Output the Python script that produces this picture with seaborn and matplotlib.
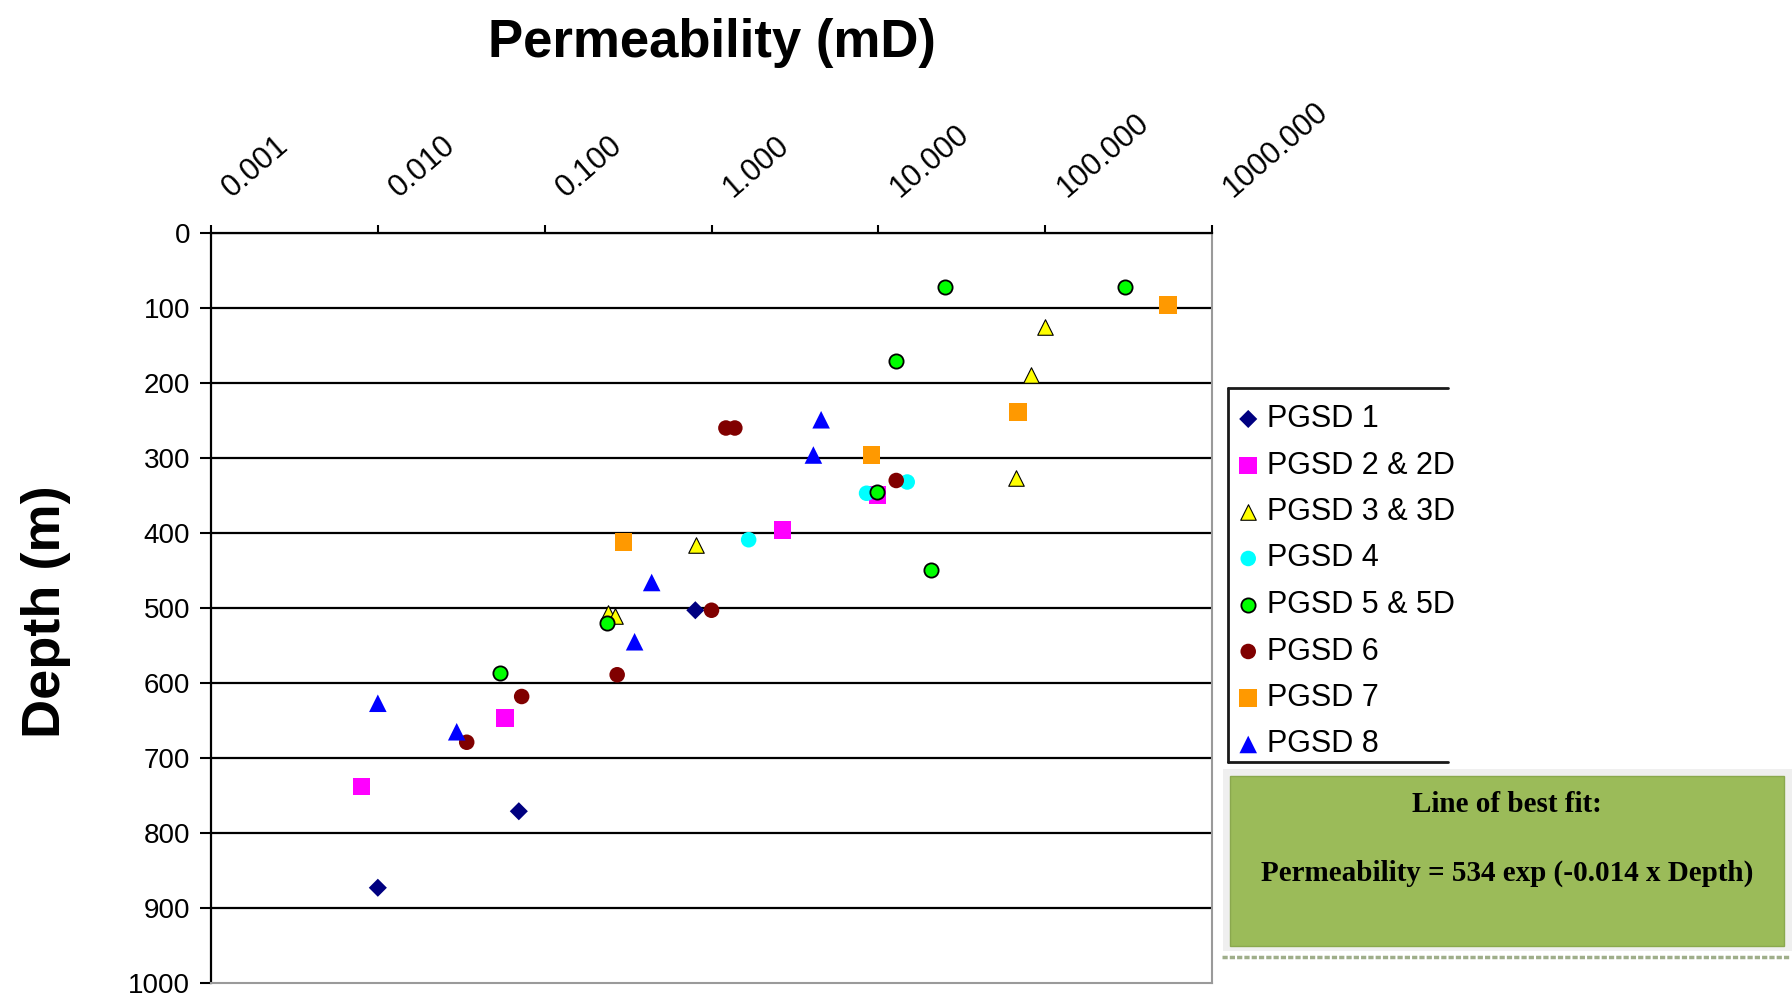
import matplotlib
matplotlib.use("Agg")
import matplotlib.pyplot as plt
import matplotlib.transforms as mtransforms
from matplotlib.lines import Line2D
from matplotlib.patches import Rectangle
import seaborn as sns
import pandas as pd

# Số liệu (độ thấm mD, độ sâu m)
wells = ["PGSD 1", "PGSD 2 & 2D", "PGSD 3 & 3D", "PGSD 4",
         "PGSD 5 & 5D", "PGSD 6", "PGSD 7", "PGSD 8"]

pgsd1_perm = [0.80, 0.070, 0.010]
pgsd1_depth = [503, 771, 873]

pgsd2_perm = [2.66, 9.9, 0.058, 0.0080]
pgsd2_depth = [396, 349, 647, 738]

pgsd3_perm = [100, 82, 67, 0.81, 0.24, 0.265]
pgsd3_depth = [125, 189, 327, 416, 507, 511]

pgsd4_perm = [1.67, 8.5, 14.9]
pgsd4_depth = [409, 347, 332]

pgsd5_perm = [25.2, 299, 12.8, 9.8, 20.7, 0.235, 0.0537]
pgsd5_depth = [72, 72, 170, 345, 449, 520, 586]

pgsd6_perm = [1.22, 1.38, 12.8, 1.0, 0.272, 0.0728, 0.0341]
pgsd6_depth = [260, 260, 330, 503, 589, 618, 679]

pgsd7_perm = [546, 68.9, 9.1, 0.296]
pgsd7_depth = [96, 239, 296, 412]

pgsd8_perm = [4.54, 4.08, 0.438, 0.346, 0.0100, 0.0297]
pgsd8_depth = [249, 296, 466, 545, 627, 665]

xtick_vals = [0.001, 0.01, 0.1, 1, 10, 100, 1000]
xtick_labels = ["0.001", "0.010", "0.100", "1.000", "10.000", "100.000", "1000.000"]
ytick_vals = list(range(0, 1001, 100))

fit_title = "Line of best fit:"
fit_text = "Permeability = 534 exp (-0.014 x Depth)"

all_perm = [pgsd1_perm, pgsd2_perm, pgsd3_perm, pgsd4_perm,
            pgsd5_perm, pgsd6_perm, pgsd7_perm, pgsd8_perm]
all_depth = [pgsd1_depth, pgsd2_depth, pgsd3_depth, pgsd4_depth,
             pgsd5_depth, pgsd6_depth, pgsd7_depth, pgsd8_depth]

rows = []
for name, p, d in zip(wells, all_perm, all_depth):
    for pi, di in zip(p, d):
        rows.append({"well": name, "perm": pi, "depth": di})
df = pd.DataFrame(rows)

# Kiểu marker cho từng giếng
markers = ["D", "s", "^", "o", "o", "o", "s", "^"]
colors = ["#000080", "#FF00FF", "#FFFF00", "#00FFFF",
          "#00FF00", "#800000", "#FF9900", "#0000FF"]
edges = ["none", "none", "black", "none", "black", "none", "none", "none"]
edge_w = [0, 0, 0.8, 0, 1.3, 0, 0, 0]
sizes = [85, 160, 125, 125, 105, 125, 160, 160]

sns.set_style("white")
plt.rcParams["font.family"] = ["Liberation Sans", "DejaVu Sans"]
plt.rcParams["text.color"] = "black"
plt.rcParams["axes.labelcolor"] = "black"
plt.rcParams["xtick.color"] = "black"
plt.rcParams["ytick.color"] = "black"

W, H = 1792, 999
fig = plt.figure(figsize=(W / 100, H / 100), dpi=100)
ax = fig.add_axes([211 / W, 1 - 983 / H, 1001 / W, 750 / H])

for i, name in enumerate(wells):
    sub = df[df["well"] == name]
    sns.scatterplot(data=sub, x="perm", y="depth", ax=ax,
                    marker=markers[i], color=colors[i], s=sizes[i],
                    edgecolor=edges[i], linewidth=edge_w[i],
                    label=name, legend=False, zorder=3)

ax.set_xscale("log")
ax.set_xlim(1e-3, 1e3)
ax.set_ylim(1000, 0)
ax.set_xlabel("")
ax.set_ylabel("")

ax.xaxis.tick_top()
ax.set_xticks(xtick_vals)
ax.xaxis.set_minor_locator(matplotlib.ticker.NullLocator())
ax.set_yticks(ytick_vals)
ax.tick_params(axis="x", which="major", direction="out", length=6, width=1.5,
               labelsize=22, pad=19.5, colors="black")
ax.tick_params(axis="y", which="major", direction="out", length=8, width=1.5,
               labelsize=20, pad=7, left=True, colors="black")
ax.set_xticklabels(xtick_labels, rotation=41, ha="left", va="baseline",
                   rotation_mode="anchor")
shift = mtransforms.ScaledTranslation(0.21, 0, fig.dpi_scale_trans)
for lbl in ax.get_xticklabels():
    lbl.set_transform(lbl.get_transform() + shift)

# đường lưới ngang
ax.yaxis.grid(True, color="black", lw=1.6)
ax.xaxis.grid(False)
ax.get_ygridlines()[-1].set_visible(False)

for side in ["top", "left"]:
    ax.spines[side].set_color("black")
    ax.spines[side].set_linewidth(1.6)
for side in ["right", "bottom"]:
    ax.spines[side].set_color("#9a9a9a")
    ax.spines[side].set_linewidth(1.5)

ax.set_title("Permeability (mD)", fontsize=38, fontweight="bold",
             y=1.2347, pad=0, color="black")
ax.set_ylabel("Depth (m)", fontsize=39, fontweight="bold", color="black")
ax.yaxis.set_label_coords(-0.14, 0.4953)

# chú thích
handles, labels = ax.get_legend_handles_labels()
leg = fig.legend(handles, labels, loc="upper left",
                 bbox_to_anchor=(1236 / W, 1 - 404 / H),
                 bbox_transform=fig.transFigure, frameon=False,
                 fontsize=22, handlelength=0.8, handletextpad=0.2,
                 labelspacing=0.54, borderpad=0, borderaxespad=0,
                 scatterpoints=1, labelcolor="black")

frame_kw = dict(transform=fig.transFigure, color="#1a1a1a", lw=2)
fig.add_artist(Line2D([1228 / W, 1228 / W], [1 - 388 / H, 1 - 762 / H], **frame_kw))
fig.add_artist(Line2D([1228 / W, 1448 / W], [1 - 388 / H, 1 - 388 / H], **frame_kw))
fig.add_artist(Line2D([1228 / W, 1448 / W], [1 - 762 / H, 1 - 762 / H], **frame_kw))

# hộp phương trình
fig.add_artist(Rectangle((1223 / W, 1 - 951 / H), (W - 1223) / W, 182 / H,
                         transform=fig.transFigure, facecolor="#efefef",
                         edgecolor="none"))
fig.add_artist(Rectangle((1230 / W, 1 - 946 / H), 554 / W, 170 / H,
                         transform=fig.transFigure, facecolor="#9BBB59",
                         edgecolor="#8aa84e", lw=1))
fig.add_artist(Line2D([1222 / W, 1 - 0.001], [1 - 957 / H, 1 - 957 / H],
                      transform=fig.transFigure, color="#9fae8a", lw=2.5,
                      linestyle=(0, (1.5, 0.6))))
fig.text(1507 / W, 1 - 804 / H, fit_title, ha="center", va="center",
         fontsize=21, fontweight="bold", color="black",
         family=["Liberation Serif", "DejaVu Serif"])
fig.text(1507 / W, 1 - 873 / H, fit_text, ha="center", va="center",
         fontsize=21, fontweight="bold", color="black",
         family=["Liberation Serif", "DejaVu Serif"])

fig.savefig("out.png", dpi=100, facecolor="white")
